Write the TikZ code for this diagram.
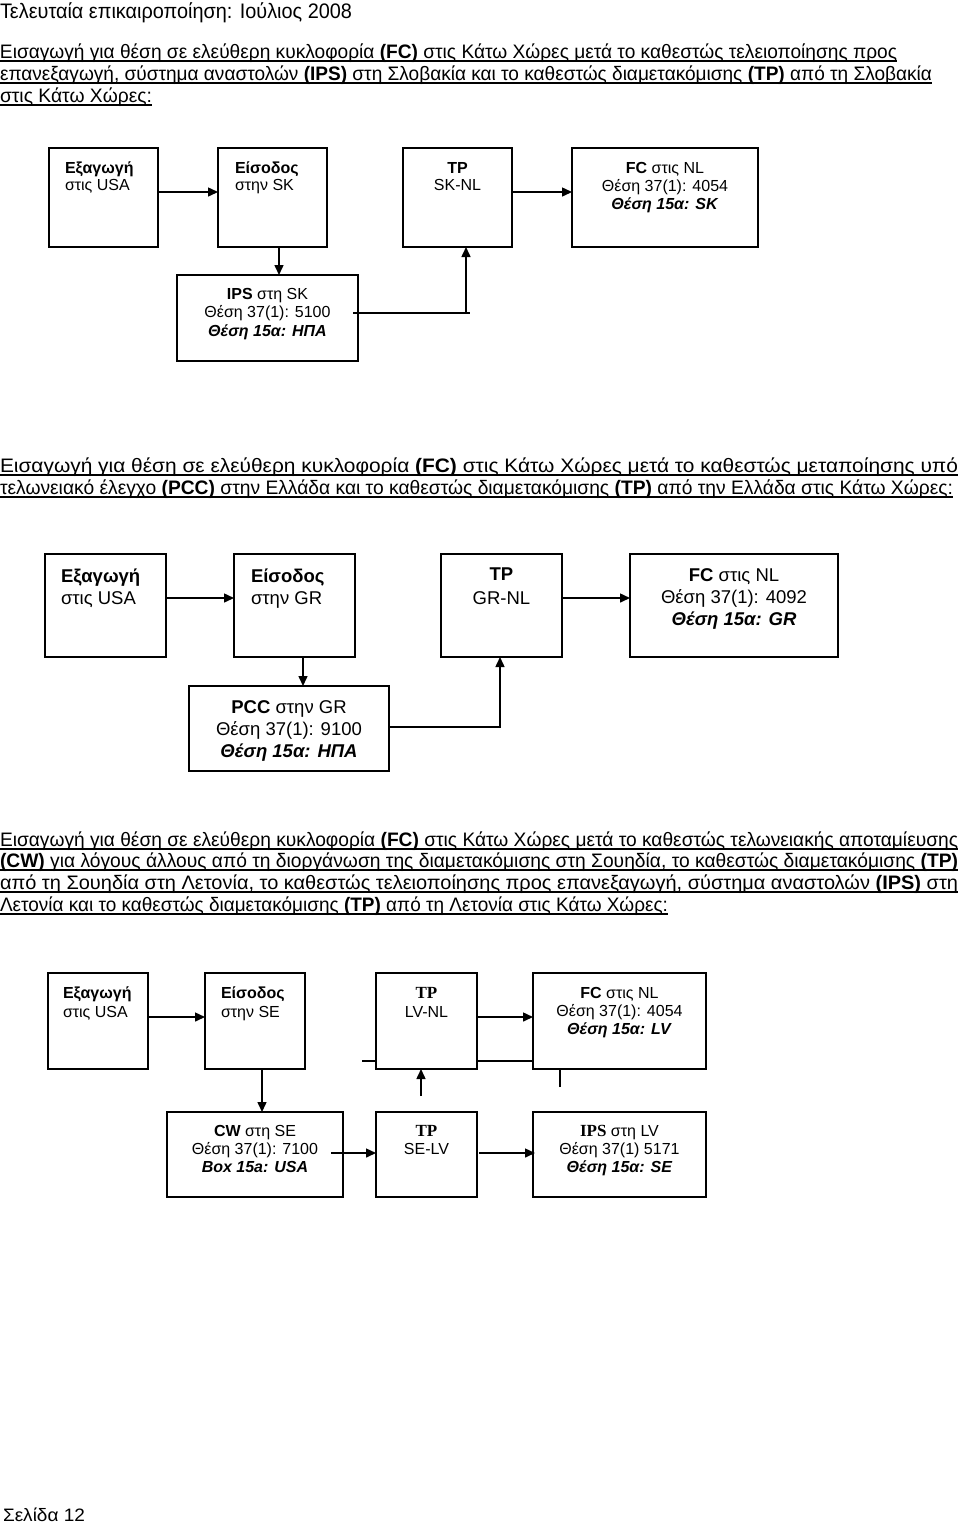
\documentclass[tikz,border=0pt]{standalone}
\usepackage{fontspec}
\usepackage{graphicx}
\setmainfont{Liberation Sans}
\newfontfamily\tnr{Liberation Serif}
\usetikzlibrary{arrows.meta,calc}
\tikzset{
 box/.style={draw, line width=1.5pt, inner sep=0pt, outer sep=0pt, anchor=north west},
 conn/.style={line width=1.5pt, -{Triangle[length=10pt,width=9pt]}},
 plainln/.style={line width=1.5pt},
 uline/.style={line width=1.3pt},
 ptxt/.style={inner sep=0pt, outer sep=0pt, anchor=base west, font=\fontsize{19.5}{22}\selectfont},
 ttA/.style={inner sep=0pt, outer sep=0pt, anchor=base, font=\fontsize{16}{18}\selectfont},
 ttAl/.style={ttA, anchor=base west},
 ttB/.style={inner sep=0pt, outer sep=0pt, anchor=base, font=\fontsize{18.5}{22}\selectfont},
 ttBl/.style={ttB, anchor=base west},
 serifTP/.style={ttA, font=\fontsize{17}{18}\selectfont\tnr\bfseries},
}
\newcommand\pline[4]{%
 \node[ptxt] (#1) at (0,#2) {\resizebox{#3pt}{\height}{#4}};
 \draw[uline] ($(#1.base west)+(0,3)$) -- ($(#1.base east)+(0,3)$);}
\begin{document}
\begin{tikzpicture}[x=1pt,y=-1pt]
\useasboundingbox (0,0) rectangle (960,1524);

% title
\node[ptxt, font=\fontsize{21}{24}\selectfont] (title) at (0,18) {\resizebox{352pt}{\height}{Τελευταία επικαιροποίηση: Ιούλιος 2008}};

% paragraph 1
\pline{p1a}{58}{897}{Εισαγωγή για θέση σε ελεύθερη κυκλοφορία \textbf{(FC)} στις Κάτω Χώρες μετά το καθεστώς τελειοποίησης προς}
\pline{p1b}{80}{932}{επανεξαγωγή, σύστημα αναστολών \textbf{(IPS)} στη Σλοβακία και το καθεστώς διαμετακόμισης \textbf{(TP)} από τη Σλοβακία}
\pline{p1c}{102}{152}{στις Κάτω Χώρες:}

% diagram 1
\node[box, minimum width=109pt, minimum height=99pt] (a1) at (49,148) {};
\node[box, minimum width=109pt, minimum height=99pt] (a2) at (218,148) {};
\node[box, minimum width=109pt, minimum height=99pt] (a3) at (403,148) {};
\node[box, minimum width=186pt, minimum height=99pt] (a4) at (572,148) {};
\node[box, minimum width=181pt, minimum height=86pt] (a5) at (177,275) {};

\node[ttAl] (a1l1) at (65,173) {\textbf{Εξαγωγή}};
\node[ttAl] (a1l2) at (65,190) {στις USA};
\node[ttAl] (a2l1) at (235,173) {\textbf{Είσοδος}};
\node[ttAl] (a2l2) at (235,190) {στην SK};
\node[ttA] (a3l1) at (457.5,173) {\textbf{TP}};
\node[ttA] (a3l2) at (457.5,190) {SK-NL};
\node[ttA] (a4l1) at (665,173) {\textbf{FC} στις NL};
\node[ttA] (a4l2) at (665,191) {Θέση 37(1): 4054};
\node[ttA] (a4l3) at (665,209) {\textbf{\textit{Θέση 15α: SK}}};
\node[ttA] (a5l1) at (267.5,299) {\textbf{IPS} στη SK};
\node[ttA] (a5l2) at (267.5,317) {Θέση 37(1): 5100};
\node[ttA] (a5l3) at (267.5,336) {\textbf{\textit{Θέση 15α: ΗΠΑ}}};

\draw[conn] ($(a1.north east)+(0,44)$) -- ($(a2.north west)+(0,44)$);
\draw[conn] ($(a2.south west)+(61,0)$) -- ($(a5.north west)+(102,0)$);
\coordinate (k1) at ($(a3.south west)+(63,66)$);
\draw[plainln] ($(a5.north east)+(-5,38)$) -- ($(k1)+(4,0)$);
\draw[conn] (k1) -- (a3.south west -| k1);
\draw[conn] ($(a3.north east)+(0,44)$) -- ($(a4.north west)+(0,44)$);

% paragraph 2
\pline{p2a}{472}{958}{Εισαγωγή για θέση σε ελεύθερη κυκλοφορία \textbf{(FC)} στις Κάτω Χώρες μετά το καθεστώς μεταποίησης υπό}
\pline{p2b}{494}{953}{τελωνειακό έλεγχο \textbf{(PCC)} στην Ελλάδα και το καθεστώς διαμετακόμισης \textbf{(TP)} από την Ελλάδα στις Κάτω Χώρες:}

% diagram 2
\node[box, minimum width=121pt, minimum height=103pt] (b1) at (45,554) {};
\node[box, minimum width=121pt, minimum height=103pt] (b2) at (234,554) {};
\node[box, minimum width=121pt, minimum height=103pt] (b3) at (441,554) {};
\node[box, minimum width=208pt, minimum height=103pt] (b4) at (630,554) {};
\node[box, minimum width=200pt, minimum height=85pt] (b5) at (189,686) {};

\node[ttBl] (b1l1) at (61,582) {\textbf{Εξαγωγή}};
\node[ttBl] (b1l2) at (61,604) {στις USA};
\node[ttBl] (b2l1) at (251,582) {\textbf{Είσοδος}};
\node[ttBl] (b2l2) at (251,604) {στην GR};
\node[ttB] (b3l1) at (501.5,580) {\textbf{TP}};
\node[ttB] (b3l2) at (501.5,604) {GR-NL};
\node[ttB] (b4l1) at (734,581) {\textbf{FC} στις NL};
\node[ttB] (b4l2) at (734,603) {Θέση 37(1): 4092};
\node[ttB] (b4l3) at (734,625) {\textbf{\textit{Θέση 15α: GR}}};
\node[ttB] (b5l1) at (289,713) {\textbf{PCC} στην GR};
\node[ttB] (b5l2) at (289,735) {Θέση 37(1): 9100};
\node[ttB] (b5l3) at (289,757) {\textbf{\textit{Θέση 15α: ΗΠΑ}}};

\draw[conn] ($(b1.north east)+(0,44)$) -- ($(b2.north west)+(0,44)$);
\draw[conn] ($(b2.south west)+(69,0)$) -- ($(b5.north west)+(114,0)$);
\coordinate (k2) at ($(b3.south west)+(59,70)$);
\draw[plainln] ($(b5.north east)+(0,41)$) -- (k2);
\draw[conn] ($(k2)+(0,1)$) -- (b3.south west -| k2);
\draw[conn] ($(b3.north east)+(0,44)$) -- ($(b4.north west)+(0,44)$);

% paragraph 3
\pline{p3a}{846}{958}{Εισαγωγή για θέση σε ελεύθερη κυκλοφορία \textbf{(FC)} στις Κάτω Χώρες μετά το καθεστώς τελωνειακής αποταμίευσης}
\pline{p3b}{867}{958}{\textbf{(CW)} για λόγους άλλους από τη διοργάνωση της διαμετακόμισης στη Σουηδία, το καθεστώς διαμετακόμισης \textbf{(TP)}}
\pline{p3c}{889}{958}{από τη Σουηδία στη Λετονία, το καθεστώς τελειοποίησης προς επανεξαγωγή, σύστημα αναστολών \textbf{(IPS)} στη}
\pline{p3d}{911}{668}{Λετονία και το καθεστώς διαμετακόμισης \textbf{(TP)} από τη Λετονία στις Κάτω Χώρες:}

% diagram 3
\node[box, minimum width=100pt, minimum height=96pt] (c1) at (48,973) {};
\node[box, minimum width=100pt, minimum height=96pt] (c2) at (205,973) {};
\node[box, minimum width=101pt, minimum height=96pt] (c3) at (376,973) {};
\node[box, minimum width=173pt, minimum height=96pt] (c4) at (533,973) {};
\node[box, minimum width=176pt, minimum height=85pt] (c5) at (167,1112) {};
\node[box, minimum width=101pt, minimum height=85pt] (c6) at (376,1112) {};
\node[box, minimum width=173pt, minimum height=85pt] (c7) at (533,1112) {};

\node[ttAl] (c1l1) at (63,998) {\textbf{Εξαγωγή}};
\node[ttAl] (c1l2) at (63,1017) {στις USA};
\node[ttAl] (c2l1) at (221,998) {\textbf{Είσοδος}};
\node[ttAl] (c2l2) at (221,1017) {στην SE};
\node[serifTP] (c3l1) at (426.5,998) {TP};
\node[ttA] (c3l2) at (426.5,1017) {LV-NL};
\node[ttA] (c4l1) at (619.5,998) {\textbf{FC} στις NL};
\node[ttA] (c4l2) at (619.5,1016) {Θέση 37(1): 4054};
\node[ttA] (c4l3) at (619.5,1034) {\textbf{\textit{Θέση 15α: LV}}};
\node[ttA] (c5l1) at (255,1136) {\textbf{CW} στη SE};
\node[ttA] (c5l2) at (255,1154) {Θέση 37(1): 7100};
\node[ttA] (c5l3) at (255,1172) {\textbf{\textit{Box 15a: USA}}};
\node[serifTP] (c6l1) at (426.5,1136) {TP};
\node[ttA] (c6l2) at (426.5,1154) {SE-LV};
\node[ttA] (c7l1) at (619.5,1136) {{\fontsize{17}{18}\selectfont\tnr\bfseries IPS} στη LV};
\node[ttA] (c7l2) at (619.5,1154) {Θέση 37(1) 5171};
\node[ttA] (c7l3) at (619.5,1172) {\textbf{\textit{Θέση 15α: SE}}};

\draw[conn] ($(c1.north east)+(0,44)$) -- ($(c2.north west)+(0,44)$);
\draw[conn] ($(c2.south west)+(57,0)$) -- ($(c5.north west)+(95,0)$);
\draw[conn] ($(c5.north east)+(-12,41)$) -- ($(c6.north west)+(0,41)$);
\coordinate (k3) at ($(c6.north west)+(45,-16)$);
\draw[conn] (k3) -- (c3.south west -| k3);
\draw[conn] ($(c3.north east)+(0,44)$) -- ($(c4.north west)+(0,44)$);
\coordinate (k4) at ($(c3.south west)+(-14,-8)$);
\draw[plainln] (k4) -- (k4 -| c3.west);
\draw[plainln] ($(c3.south east)+(0,-8)$) -- ($(c4.south west)+(0,-8)$);
\coordinate (k5) at ($(c4.south west)+(27,18)$);
\draw[line width=1.2pt] (k5) -- (k5 |- c4.south);
\draw[conn] ($(c6.north east)+(2,41)$) -- ($(c7.north west)+(2,41)$);

% page number
\node[ptxt, font=\fontsize{18}{22}\selectfont] (page) at (3,1521) {\resizebox{82pt}{\height}{Σελίδα 12}};
\end{tikzpicture}
\end{document}
